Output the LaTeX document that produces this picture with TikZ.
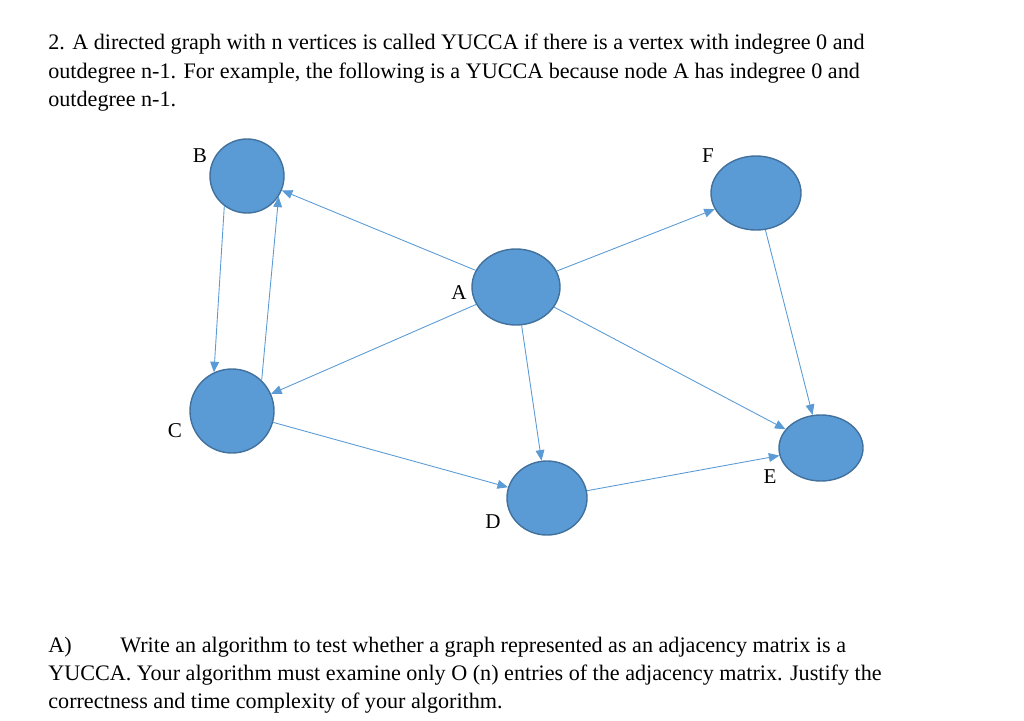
\documentclass[tikz,border=0pt]{standalone}
\usepackage{fontspec}
\setmainfont{Liberation Serif}
\usetikzlibrary{arrows.meta,shapes.geometric}
\definecolor{vfill}{HTML}{5B9BD5}
\definecolor{vline}{HTML}{41719C}
\tikzset{
  vert/.style={ellipse, draw=vline, fill=vfill, line width=0.8pt, inner sep=0pt},
  edge/.style={draw=vfill, line width=0.5pt, -{Triangle[width=5pt,length=6pt]}},
  txt/.style={anchor=base west, inner sep=0pt, font=\fontsize{12.6pt}{14pt}\selectfont},
  lbl/.style={font=\fontsize{12pt}{14pt}\selectfont}
}
\begin{document}
\begin{tikzpicture}[x=0.02cm, y=-0.02cm]
        \useasboundingbox (0,0) rectangle (1024,720);

        \node[txt] (t1) at (48,50) {2. A directed graph with n vertices is called YUCCA if there is a vertex with indegree 0 and};
        \node[txt] (t2) at (48,78) {outdegree n-1. For example, the following is a YUCCA because node A has indegree 0 and};
        \node[txt] (t3) at (48,106) {outdegree n-1.};

        \node[vert, minimum width=74*0.02cm, minimum height=74*0.02cm] (B) at (247,176) {};
        \node[vert, minimum width=90*0.02cm, minimum height=74*0.02cm] (F) at (756,193) {};
        \node[vert, minimum width=88*0.02cm, minimum height=76*0.02cm] (A) at (516,287) {};
        \node[vert, minimum width=84*0.02cm, minimum height=84*0.02cm] (C) at (232,411) {};
        \node[vert, minimum width=84*0.02cm, minimum height=66*0.02cm] (E) at (821,448) {};
        \node[vert, minimum width=80*0.02cm, minimum height=74*0.02cm] (D) at (547,498) {};

        \node[lbl] (lB) at (200,156) {B};
        \node[lbl] (lF) at (708,156) {F};
        \node[lbl] (lA) at (459,293) {A};
        \node[lbl] (lC) at (175,431) {C};
        \node[lbl] (lE) at (770,477) {E};
        \node[lbl] (lD) at (493,522) {D};

        \draw[edge] (A) -- (B);
        \draw[edge] (A) -- (F);
        \draw[edge] (A) -- (C);
        \draw[edge] (A) -- (D);
        \draw[edge] (A) -- (E);
        \draw[edge] (B.233) -- (C.115);
        \draw[edge] (C.46) -- (B.-33);
        \draw[edge] (C) -- (D);
        \draw[edge] (D) -- (E);
        \draw[edge] (F) -- (E);

        \node[txt] (q0) at (48,652) {A)};
        \node[txt] (q1) at (120,652) {Write an algorithm to test whether a graph represented as an adjacency matrix is a};
        \node[txt] (q2) at (48,680) {YUCCA. Your algorithm must examine only O (n) entries of the adjacency matrix. Justify the};
        \node[txt] (q3) at (48,708) {correctness and time complexity of your algorithm.};
\end{tikzpicture}
\end{document}
